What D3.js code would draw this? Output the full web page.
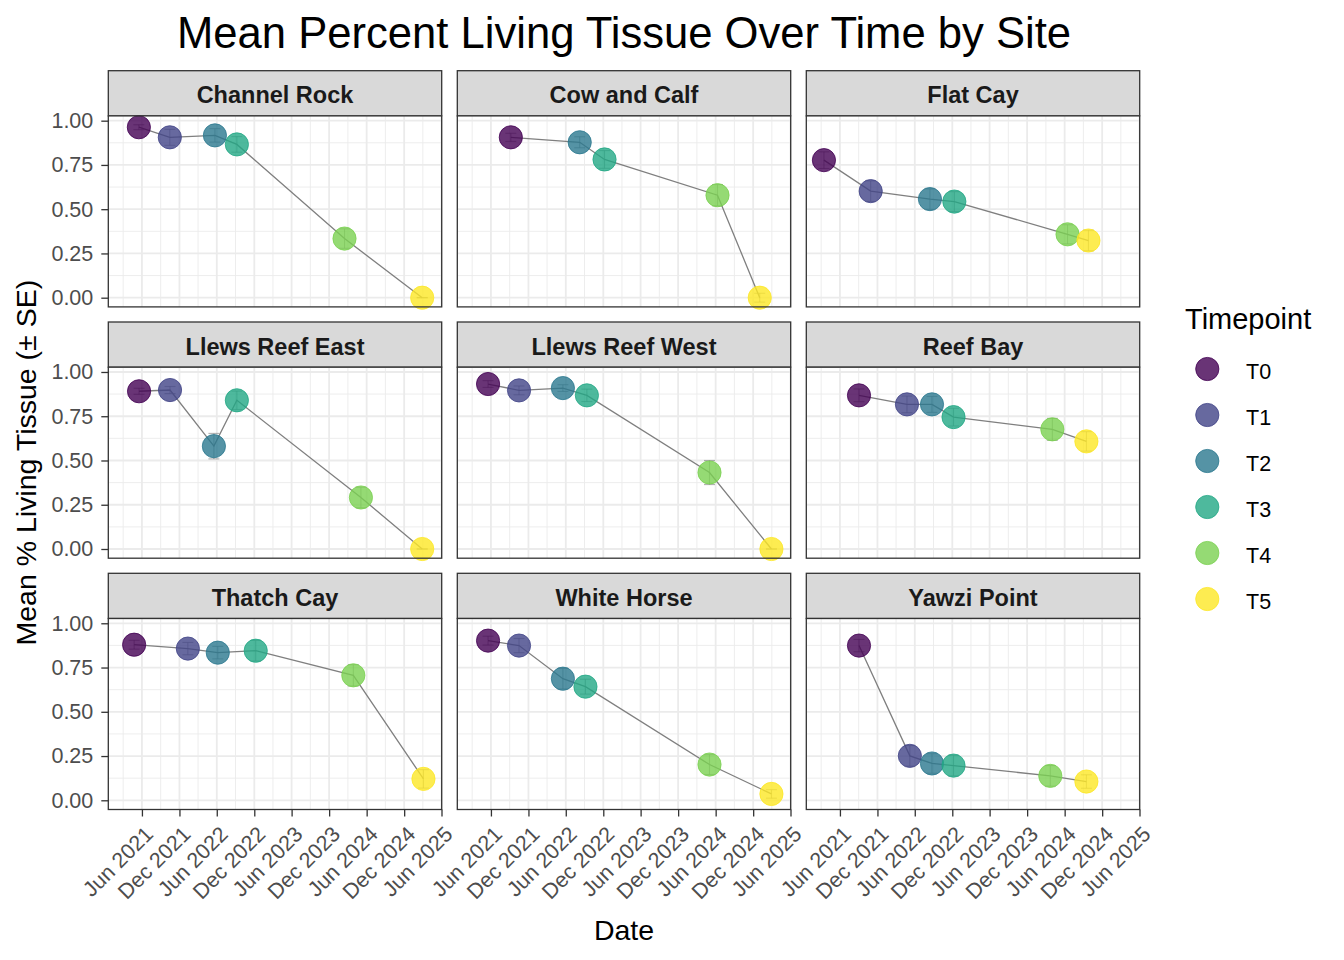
<!DOCTYPE html>
<html>
<head>
<meta charset="utf-8">
<script src="https://cdn.jsdelivr.net/npm/d3@7"></script>
<style>
  body { margin: 0; background: #fff; }
  svg { display: block; font-family: "Liberation Sans", Arial, sans-serif; }
</style>
</head>
<body>
<div id="chart"></div>
<script>
// ---- data ----
const sites = ["Channel Rock", "Cow and Calf", "Flat Cay",
  "Llews Reef East", "Llews Reef West", "Reef Bay",
  "Thatch Cay", "White Horse", "Yawzi Point"];

const timepoints = ["T0", "T1", "T2", "T3", "T4", "T5"];
const tpColors = ["#440154", "#414487", "#2A788E", "#22A884", "#7AD151", "#FDE725"];

// timepoint index of every survey, per site (Cow and Calf has no T1)
const siteTimepoints = [
  [0, 1, 2, 3, 4, 5],
  [0, 2, 3, 4, 5],
  [0, 1, 2, 3, 4, 5],
  [0, 1, 2, 3, 4, 5],
  [0, 1, 2, 3, 4, 5],
  [0, 1, 2, 3, 4, 5],
  [0, 1, 2, 3, 4, 5],
  [0, 1, 2, 3, 4, 5],
  [0, 1, 2, 3, 4, 5]
];

const surveyDates = [
  ["2021-05-17", "2021-10-15", "2022-05-23", "2022-09-07", "2024-02-14", "2025-02-27"],
  ["2021-09-06", "2022-08-08", "2022-12-07", "2024-06-10", "2025-01-02"],
  ["2021-03-15", "2021-10-29", "2022-08-14", "2022-12-11", "2024-06-15", "2024-09-25"],
  ["2021-05-18", "2021-10-16", "2022-05-18", "2022-09-07", "2024-05-04", "2025-02-27"],
  ["2021-05-18", "2021-10-16", "2022-05-18", "2022-09-12", "2024-05-02", "2025-02-28"],
  ["2021-09-02", "2022-04-24", "2022-08-24", "2022-12-07", "2024-04-02", "2024-09-15"],
  ["2021-04-24", "2022-01-11", "2022-06-06", "2022-12-08", "2024-03-28", "2025-03-05"],
  ["2021-05-18", "2021-10-16", "2022-05-18", "2022-09-05", "2024-05-02", "2025-02-28"],
  ["2021-09-02", "2022-05-08", "2022-08-24", "2022-12-07", "2024-03-23", "2024-09-15"]
];

const meanLiving = [
  [0.963, 0.906, 0.917, 0.866, 0.334, 0.000],
  [0.906, 0.878, 0.781, 0.579, 0.000],
  [0.777, 0.602, 0.557, 0.543, 0.358, 0.323],
  [0.891, 0.898, 0.581, 0.840, 0.291, 0.000],
  [0.932, 0.896, 0.909, 0.868, 0.432, 0.000],
  [0.868, 0.817, 0.817, 0.745, 0.676, 0.608],
  [0.879, 0.857, 0.834, 0.845, 0.706, 0.121],
  [0.902, 0.874, 0.687, 0.642, 0.202, 0.036],
  [0.874, 0.251, 0.208, 0.196, 0.138, 0.106]
];

const seLiving = [
  [0.014, 0.045, 0.038, 0.044, 0.055, 0.000],
  [0.023, 0.031, 0.050, 0.060, 0.025],
  [0.047, 0.058, 0.058, 0.056, 0.054, 0.058],
  [0.017, 0.020, 0.072, 0.052, 0.058, 0.000],
  [0.019, 0.025, 0.019, 0.035, 0.068, 0.000],
  [0.036, 0.047, 0.045, 0.050, 0.062, 0.055],
  [0.025, 0.035, 0.035, 0.058, 0.060, 0.052],
  [0.025, 0.040, 0.058, 0.042, 0.056, 0.024],
  [0.035, 0.058, 0.055, 0.058, 0.058, 0.038]
];

const xTickDates = ["2021-06-01", "2021-12-01", "2022-06-01", "2022-12-01", "2023-06-01",
  "2023-12-01", "2024-06-01", "2024-12-01", "2025-06-01"];
const xTickLabels = ["Jun 2021", "Dec 2021", "Jun 2022", "Dec 2022", "Jun 2023",
  "Dec 2023", "Jun 2024", "Dec 2024", "Jun 2025"];
const yTicks = [0, 0.25, 0.5, 0.75, 1];
const yTickLabels = ["0.00", "0.25", "0.50", "0.75", "1.00"];

// ---- layout ----
const W = 1344, H = 960;
const colX = [108.3, 457.3, 806.3];
const rowTop = [70.7, 322, 573.3];
const pw = 333.4, ph = 191, stripH = 45.2;
const tickLen = 7;
const textGrey = "#4D4D4D", grey20 = "#333333", gridCol = "#EBEBEB";

const parse = d3.utcParse("%Y-%m-%d");

const x = d3.scaleUtc()
  .domain([parse("2020-12-19"), parse("2025-06-02")])
  .range([0, pw]);
const y = d3.scaleLinear()
  .domain([-0.052, 1.027])
  .range([ph, 0]);

const xMajor = xTickDates.map(parse);
const xMinor = [];
const step = xMajor[1] - xMajor[0];
xMinor.push(new Date(+xMajor[0] - step / 2));
for (let i = 0; i < xMajor.length - 1; i++) xMinor.push(new Date((+xMajor[i] + +xMajor[i + 1]) / 2));
const yMinor = [];
for (let i = 0; i < yTicks.length - 1; i++) yMinor.push((yTicks[i] + yTicks[i + 1]) / 2);

const svg = d3.select("#chart").append("svg")
  .attr("width", W).attr("height", H);

svg.append("text")
  .attr("x", colX[0] + (colX[2] + pw - colX[0]) / 2)
  .attr("y", 47.5)
  .attr("text-anchor", "middle")
  .attr("font-size", 43.6)
  .attr("fill", "#000")
  .text("Mean Percent Living Tissue Over Time by Site");

sites.forEach(function(site, si) {
  const col = si % 3, row = Math.floor(si / 3);
  const px = colX[col], sy = rowTop[row], py = sy + stripH;

  // strip
  svg.append("rect")
    .attr("x", px).attr("y", sy).attr("width", pw).attr("height", stripH)
    .attr("fill", "#D9D9D9").attr("stroke", grey20).attr("stroke-width", 1.3);
  svg.append("text")
    .attr("x", px + pw / 2).attr("y", sy + 32.6)
    .attr("text-anchor", "middle")
    .attr("font-size", 23.5).attr("font-weight", "bold")
    .attr("fill", "#1A1A1A")
    .text(site);

  const g = svg.append("g").attr("transform", "translate(" + px + "," + py + ")");

  // grid
  g.append("rect").attr("width", pw).attr("height", ph).attr("fill", "#fff");
  g.selectAll(".xmin").data(xMinor.filter(d => x(d) >= 0 && x(d) <= pw)).enter().append("line")
    .attr("x1", d => x(d)).attr("x2", d => x(d)).attr("y1", 0).attr("y2", ph)
    .attr("stroke", gridCol).attr("stroke-width", 0.9);
  g.selectAll(".ymin").data(yMinor).enter().append("line")
    .attr("y1", d => y(d)).attr("y2", d => y(d)).attr("x1", 0).attr("x2", pw)
    .attr("stroke", gridCol).attr("stroke-width", 0.9);
  g.selectAll(".xmaj").data(xMajor).enter().append("line")
    .attr("x1", d => x(d)).attr("x2", d => x(d)).attr("y1", 0).attr("y2", ph)
    .attr("stroke", gridCol).attr("stroke-width", 1.8);
  g.selectAll(".ymaj").data(yTicks).enter().append("line")
    .attr("y1", d => y(d)).attr("y2", d => y(d)).attr("x1", 0).attr("x2", pw)
    .attr("stroke", gridCol).attr("stroke-width", 1.8);

  const pts = siteTimepoints[si].map(function(tp, i) {
    return { tp: tp, date: parse(surveyDates[si][i]), mean: meanLiving[si][i], se: seLiving[si][i] };
  });

  // connecting line
  g.append("path")
    .datum(pts)
    .attr("d", d3.line().x(d => x(d.date)).y(d => y(d.mean)))
    .attr("fill", "none").attr("stroke", "#7F7F7F").attr("stroke-width", 1.3);

  // error bars
  const eb = g.append("g").attr("stroke", "#7F7F7F").attr("stroke-opacity", 0.6).attr("stroke-width", 1.1);
  pts.forEach(function(d) {
    const cx = x(d.date), y1 = y(d.mean - d.se), y2 = y(d.mean + d.se);
    eb.append("line").attr("x1", cx).attr("x2", cx).attr("y1", y1).attr("y2", y2);
    eb.append("line").attr("x1", cx - 5.5).attr("x2", cx + 5.5).attr("y1", y1).attr("y2", y1);
    eb.append("line").attr("x1", cx - 5.5).attr("x2", cx + 5.5).attr("y1", y2).attr("y2", y2);
  });

  // points
  g.selectAll("circle").data(pts).enter().append("circle")
    .attr("cx", d => x(d.date)).attr("cy", d => y(d.mean)).attr("r", 11.6)
    .attr("fill", d => tpColors[d.tp]).attr("fill-opacity", 0.8)
    .attr("stroke", d => tpColors[d.tp]).attr("stroke-opacity", 0.8).attr("stroke-width", 1);

  // panel border
  g.append("rect").attr("width", pw).attr("height", ph)
    .attr("fill", "none").attr("stroke", grey20).attr("stroke-width", 1.3);

  // y axis on first column
  if (col === 0) {
    const ya = g.append("g")
      .call(d3.axisLeft(y).tickValues(yTicks).tickSize(tickLen).tickPadding(8)
        .tickFormat((d, i) => yTickLabels[i]));
    ya.select(".domain").remove();
    ya.selectAll(".tick line").attr("stroke", grey20).attr("stroke-width", 1.3);
    ya.selectAll(".tick text").attr("fill", textGrey).attr("font-size", 21.5)
      .attr("font-family", "Liberation Sans, Arial, sans-serif");
  }

  // x axis on bottom row
  if (row === 2) {
    const xa = g.append("g").attr("transform", "translate(0," + ph + ")")
      .call(d3.axisBottom(x).tickValues(xMajor).tickSize(tickLen)
        .tickFormat((d, i) => xTickLabels[i]));
    xa.select(".domain").remove();
    xa.selectAll(".tick line").attr("stroke", grey20).attr("stroke-width", 1.3);
    xa.selectAll(".tick text")
      .attr("fill", textGrey).attr("font-size", 21.5)
      .attr("font-family", "Liberation Sans, Arial, sans-serif")
      .attr("text-anchor", "end")
      .attr("x", 0).attr("y", 0).attr("dy", "0.72em")
      .attr("transform", "translate(1," + (tickLen + 8) + ") rotate(-45)");
  }
});

// axis titles
svg.append("text")
  .attr("x", colX[0] + (colX[2] + pw - colX[0]) / 2)
  .attr("y", 940)
  .attr("text-anchor", "middle")
  .attr("font-size", 28.5).attr("fill", "#000")
  .text("Date");

const yMid = (rowTop[0] + stripH + rowTop[2] + stripH + ph) / 2;
svg.append("text")
  .attr("transform", "translate(36," + yMid + ") rotate(-90)")
  .attr("text-anchor", "middle")
  .attr("font-size", 28.5).attr("fill", "#000")
  .text("Mean % Living Tissue (\u00B1 SE)");

// legend
const lg = svg.append("g").attr("transform", "translate(1185,0)");
lg.append("text").attr("x", 0).attr("y", 329.3)
  .attr("font-size", 29).attr("fill", "#000").text("Timepoint");
const items = lg.selectAll(".item").data(timepoints).enter().append("g")
  .attr("transform", (d, i) => "translate(0," + (369 + i * 46) + ")");
items.append("circle").attr("cx", 22.3).attr("cy", 0).attr("r", 11.6)
  .attr("fill", (d, i) => tpColors[i]).attr("fill-opacity", 0.8)
  .attr("stroke", (d, i) => tpColors[i]).attr("stroke-opacity", 0.8).attr("stroke-width", 1);
items.append("text").attr("x", 61).attr("y", 10.3)
  .attr("font-size", 21.5).attr("fill", "#000").text(d => d);
</script>
</body>
</html>
